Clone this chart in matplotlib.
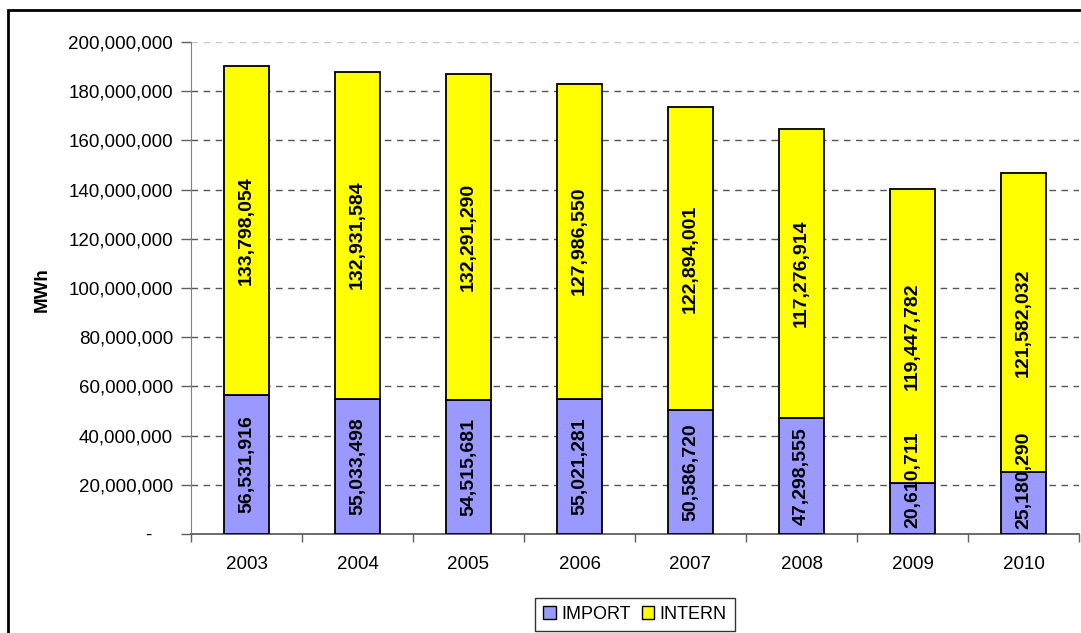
import matplotlib.pyplot as plt
import numpy as np
from matplotlib.patches import Patch, Rectangle
from matplotlib.ticker import FuncFormatter

plt.rcParams['font.family'] = ['Liberation Sans', 'DejaVu Sans']

years = ['2003', '2004', '2005', '2006', '2007', '2008', '2009', '2010']
import_vals = [56531916, 55033498, 54515681, 55021281, 50586720, 47298555, 20610711, 25180290]
intern_vals = [133798054, 132931584, 132291290, 127986550, 122894001, 117276914, 119447782, 121582032]

c_import = '#9999FF'
c_intern = '#FFFF00'

fig = plt.figure(figsize=(10.81, 6.33), dpi=100)
ax = fig.add_axes((191/1081, 99/633, 888/1081, 492/633))

x = np.arange(len(years))
imp = np.array(import_vals)
itn = np.array(intern_vals)
ax.bar(x, imp, width=0.4, color=c_import, edgecolor='black', linewidth=1.3, zorder=3)
ax.bar(x, itn, width=0.4, bottom=imp, color=c_intern, edgecolor='black', linewidth=1.3, zorder=3)

# value labels centred in each segment, kept above the axis like Excel does
min_center = 22000000
for i in range(len(years)):
    ax.text(x[i], max(imp[i]/2, min_center), '{:,}'.format(imp[i]), rotation=90, ha='center',
            va='center', fontsize=14, fontweight='bold', zorder=4)
    ax.text(x[i], imp[i] + itn[i]/2, '{:,}'.format(itn[i]), rotation=90, ha='center', va='center',
            fontsize=14, fontweight='bold', zorder=4)

ax.set_xlim(-0.5, len(years) - 0.5)
ax.set_ylim(0, 200000000)
ax.set_yticks(np.arange(0, 200000001, 20000000))
ax.yaxis.set_major_formatter(FuncFormatter(lambda v, p: '-    ' if v == 0 else '{:,.0f}'.format(v)))
ax.set_xticks(x)
ax.set_xticklabels(years)
ax.set_xticks(np.arange(-0.5, len(years)), minor=True)
ax.tick_params(axis='x', which='major', length=0, labelsize=13.5, pad=16)
ax.tick_params(axis='x', which='minor', length=6, width=1, color='#606060', direction='out')
ax.tick_params(axis='y', length=7, width=1, color='#606060', direction='out', labelsize=13.5, pad=6)

ax.grid(axis='y', linestyle=(0, (4.7, 4)), color='#555555', linewidth=1, zorder=1)
ax.get_ygridlines()[-1].set_color('#c8c8c8')
ax.spines['top'].set_visible(False)
ax.spines['right'].set_visible(False)
ax.spines['left'].set_color('#808080')
ax.spines['bottom'].set_color('#606060')
ax.spines['bottom'].set_linewidth(1.3)

fig.text(42/1081, 1 - 290/633, 'MWh', rotation=90, ha='center', va='center',
         fontsize=13.5, fontweight='bold')

handles = [Patch(facecolor=c_import, edgecolor='black', linewidth=1),
           Patch(facecolor=c_intern, edgecolor='black', linewidth=1)]
leg = fig.legend(handles, ['IMPORT', 'INTERN'], loc='lower center', bbox_to_anchor=(635/1081, 0.0),
                 ncol=2, fontsize=13, frameon=True, fancybox=False, handlelength=0.7,
                 handleheight=0.7, handletextpad=0.3, columnspacing=0.6, borderpad=0.45,
                 borderaxespad=0.1)
leg.get_frame().set_edgecolor('black')
leg.get_frame().set_linewidth(1)

# outer chart border (cut off at right and bottom)
fig.patches.append(Rectangle((8/1081, -0.1), 1.2, 0.1 + 623/633, transform=fig.transFigure,
                             fill=False, edgecolor='black', linewidth=2))

fig.savefig('out.png', dpi=100)
